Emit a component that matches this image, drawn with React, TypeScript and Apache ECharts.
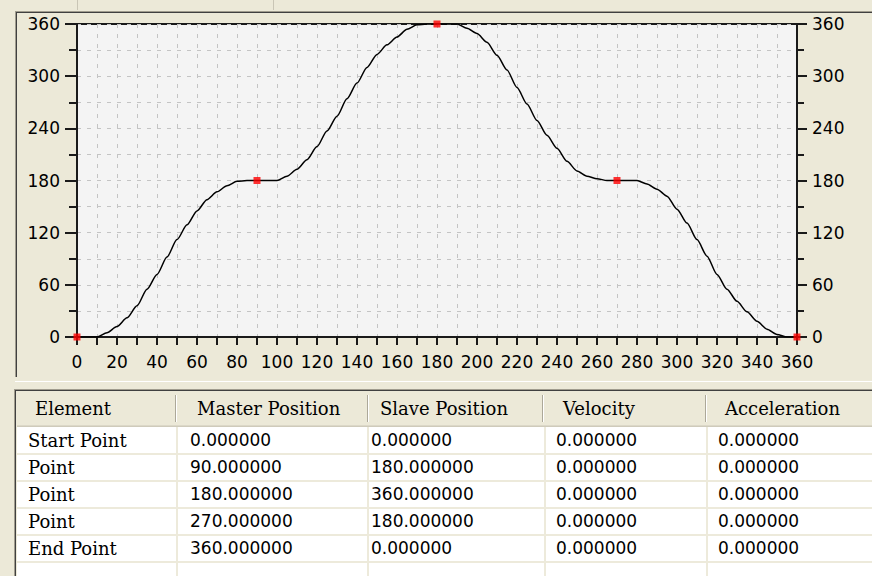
import { useEffect, useRef } from 'react';
import * as echarts from 'echarts';

// Cam profile curve (master position -> slave position)
const masterX = [
  0, 5, 10, 15, 20, 25, 30, 35, 40, 45, 50, 55, 60, 65, 70, 75, 80, 85, 90,
  95, 100, 105, 110, 115, 120, 125, 130, 135, 140, 145, 150, 155, 160, 165, 170, 175, 180,
  185, 190, 195, 200, 205, 210, 215, 220, 225, 230, 235, 240, 245, 250, 255, 260, 265, 270,
  275, 280, 285, 290, 295, 300, 305, 310, 315, 320, 325, 330, 335, 340, 345, 350, 355, 360,
];
const slaveY = [
  0, 0, 0, 5, 12, 22, 36, 55, 72, 92, 112, 129, 145, 158, 167, 174, 179, 180, 180,
  180, 180, 185, 193, 204, 219, 237, 254, 274, 292, 310, 325, 336, 345, 354, 359, 360, 360,
  360, 360, 355, 349, 339, 324, 307, 287, 268, 249, 232, 217, 202, 191, 185, 182, 180, 180,
  180, 180, 176, 170, 162, 147, 131, 112, 93, 72, 55, 41, 29, 18, 9, 3, 0, 0,
];

// Table of profile points
const tableHeaders = ['Element', 'Master Position', 'Slave Position', 'Velocity', 'Acceleration'];
const elementNames = ['Start Point', 'Point', 'Point', 'Point', 'End Point'];
const masterPos = [0, 90, 180, 270, 360];
const slavePos = [0, 180, 360, 180, 0];
const velocity = [0, 0, 0, 0, 0];
const acceleration = [0, 0, 0, 0, 0];

// Layout (pixels)
const headerSepX = [175, 367, 542, 705];
const rowSepX = [177, 368, 545, 707];
const headerTextX = [35, 197, 380, 563, 725];
const cellTextX = [28, 190, 371, 556, 718];
const rowLineY = [454, 481, 508, 535, 562];
const rowCenterY = [440, 467, 494, 521, 548];
const HEADER_TOP = 390;
const HEADER_BOTTOM = 427;
const HEADER_TEXT_Y = 408;

const BG = '#ECE9D8';
const WORD_FONT = '18px "DejaVu Serif"';
const NUM_FONT = '17px "DejaVu Sans"';

function line(x1: number, y1: number, x2: number, y2: number, stroke: string, lineWidth = 1, z = 10) {
  return { type: 'line', silent: true, z, shape: { x1, y1, x2, y2 }, style: { stroke, lineWidth } };
}
function text(x: number, y: number, t: string, font: string, z = 20) {
  return {
    type: 'text', silent: true, z, x, y,
    style: { text: t, font, fill: '#000', align: 'left', verticalAlign: 'middle' },
  };
}

export default function App() {
  const ref = useRef<HTMLDivElement>(null);
  useEffect(() => {
    if (!ref.current) return;
    const chart = echarts.init(ref.current, undefined, { renderer: 'svg' });

    const graphics: any[] = [];
    // top strip dividers
    graphics.push(line(77.5, 0, 77.5, 10, '#C9C5B5'));
    graphics.push(line(273.5, 0, 273.5, 10, '#C9C5B5'));
    // chart panel sunken border
    graphics.push(line(15, 11.5, 872, 11.5, '#A09C8E'));
    graphics.push(line(16, 12.5, 872, 12.5, '#404040'));
    graphics.push(line(15.5, 11, 15.5, 377, '#A09C8E'));
    graphics.push(line(16.5, 12, 16.5, 377, '#404040'));
    graphics.push(line(15, 381.5, 872, 381.5, '#FFFFFF'));
    // table panel
    graphics.push({ type: 'rect', silent: true, z: 1, shape: { x: 16, y: HEADER_TOP, width: 856, height: HEADER_BOTTOM - HEADER_TOP }, style: { fill: BG } });
    graphics.push({ type: 'rect', silent: true, z: 1, shape: { x: 17, y: HEADER_BOTTOM, width: 855, height: 576 - HEADER_BOTTOM }, style: { fill: '#FFFFFF' } });
    graphics.push(line(14, HEADER_TOP - 0.5, 872, HEADER_TOP - 0.5, '#A09C8E'));
    graphics.push(line(15, HEADER_TOP + 0.5, 872, HEADER_TOP + 0.5, '#404040'));
    graphics.push(line(14.5, HEADER_TOP - 1, 14.5, 576, '#A09C8E'));
    graphics.push(line(15.5, HEADER_TOP, 15.5, 576, '#404040'));
    graphics.push(line(17, HEADER_BOTTOM - 1.5, 872, HEADER_BOTTOM - 1.5, '#DCD8C8'));
    graphics.push(line(17, HEADER_BOTTOM - 0.5, 872, HEADER_BOTTOM - 0.5, '#CFCBBB'));
    headerSepX.forEach((x) => {
      graphics.push(line(x + 0.5, HEADER_TOP + 5, x + 0.5, HEADER_BOTTOM - 5, '#ACA899'));
      graphics.push(line(x + 1.5, HEADER_TOP + 5, x + 1.5, HEADER_BOTTOM - 5, '#FFFFFF'));
    });
    rowLineY.forEach((y) => graphics.push(line(17, y, 872, y, '#EDEADB', 2)));
    rowSepX.forEach((x) => graphics.push(line(x, HEADER_BOTTOM, x, 576, '#EDEADB', 2)));
    tableHeaders.forEach((h, i) => graphics.push(text(headerTextX[i], HEADER_TEXT_Y, h, WORD_FONT)));
    elementNames.forEach((name, r) => {
      const cy = rowCenterY[r];
      graphics.push(text(cellTextX[0], cy, name, WORD_FONT));
      graphics.push(text(cellTextX[1], cy, masterPos[r].toFixed(6), NUM_FONT));
      graphics.push(text(cellTextX[2], cy, slavePos[r].toFixed(6), NUM_FONT));
      graphics.push(text(cellTextX[3], cy, velocity[r].toFixed(6), NUM_FONT));
      graphics.push(text(cellTextX[4], cy, acceleration[r].toFixed(6), NUM_FONT));
    });

    const gridDash = { color: '#C4C4C4', width: 1, type: [4, 6] as any };
    const axisLabelBase = { color: '#000', fontFamily: 'DejaVu Sans', fontSize: 17 };

    chart.setOption({
      animation: false,
      backgroundColor: BG,
      grid: {
        left: 77, top: 24, width: 720, height: 313,
        show: true, backgroundColor: '#F4F4F4', borderColor: '#1a1a1a', borderWidth: 2,
      },
      xAxis: {
        type: 'value', min: 0, max: 360, interval: 20,
        axisLine: { show: true, onZero: false, lineStyle: { color: '#1a1a1a', width: 2 } },
        axisTick: { show: true, length: 8, lineStyle: { color: '#1a1a1a', width: 2 } },
        minorTick: { show: true, splitNumber: 2, length: 8, lineStyle: { color: '#1a1a1a', width: 2 } },
        axisLabel: { ...axisLabelBase, margin: 16 },
        splitLine: { show: true, lineStyle: gridDash },
        minorSplitLine: { show: true, lineStyle: gridDash },
      },
      yAxis: [
        {
          type: 'value', min: 0, max: 360, interval: 60, position: 'left',
          axisLine: { show: true, onZero: false, lineStyle: { color: '#1a1a1a', width: 2 } },
          axisTick: { show: true, length: 12, lineStyle: { color: '#1a1a1a', width: 2 } },
          minorTick: { show: true, splitNumber: 2, length: 8, lineStyle: { color: '#1a1a1a', width: 2 } },
          axisLabel: { ...axisLabelBase, margin: 17 },
          splitLine: { show: true, lineStyle: gridDash },
          minorSplitLine: { show: true, lineStyle: gridDash },
        },
        {
          type: 'value', min: 0, max: 360, interval: 60, position: 'right',
          axisLine: { show: true, onZero: false, lineStyle: { color: '#1a1a1a', width: 2 } },
          axisTick: { show: true, length: 10, lineStyle: { color: '#1a1a1a', width: 2 } },
          minorTick: { show: true, splitNumber: 2, length: 7, lineStyle: { color: '#1a1a1a', width: 2 } },
          axisLabel: { ...axisLabelBase, margin: 15 },
          splitLine: { show: false },
        },
      ],
      series: [
        {
          type: 'line',
          data: masterX.map((x, i) => [x, slaveY[i]]),
          showSymbol: false,
          smooth: 0.25,
          smoothMonotone: 'x',
          lineStyle: { color: '#000', width: 1.5 },
          z: 3,
        },
        {
          type: 'scatter',
          data: masterPos.map((x, i) => [x, slavePos[i]]),
          symbol: 'rect',
          symbolSize: 7,
          clip: false,
          itemStyle: { color: '#FF0000' },
          z: 5,
        },
      ],
      graphic: graphics,
    });
    return () => chart.dispose();
  }, []);

  return (
    <div
      ref={ref}
      style={{ position: 'fixed', left: 0, top: 0, width: 872, height: 576 }}
    />
  );
}
